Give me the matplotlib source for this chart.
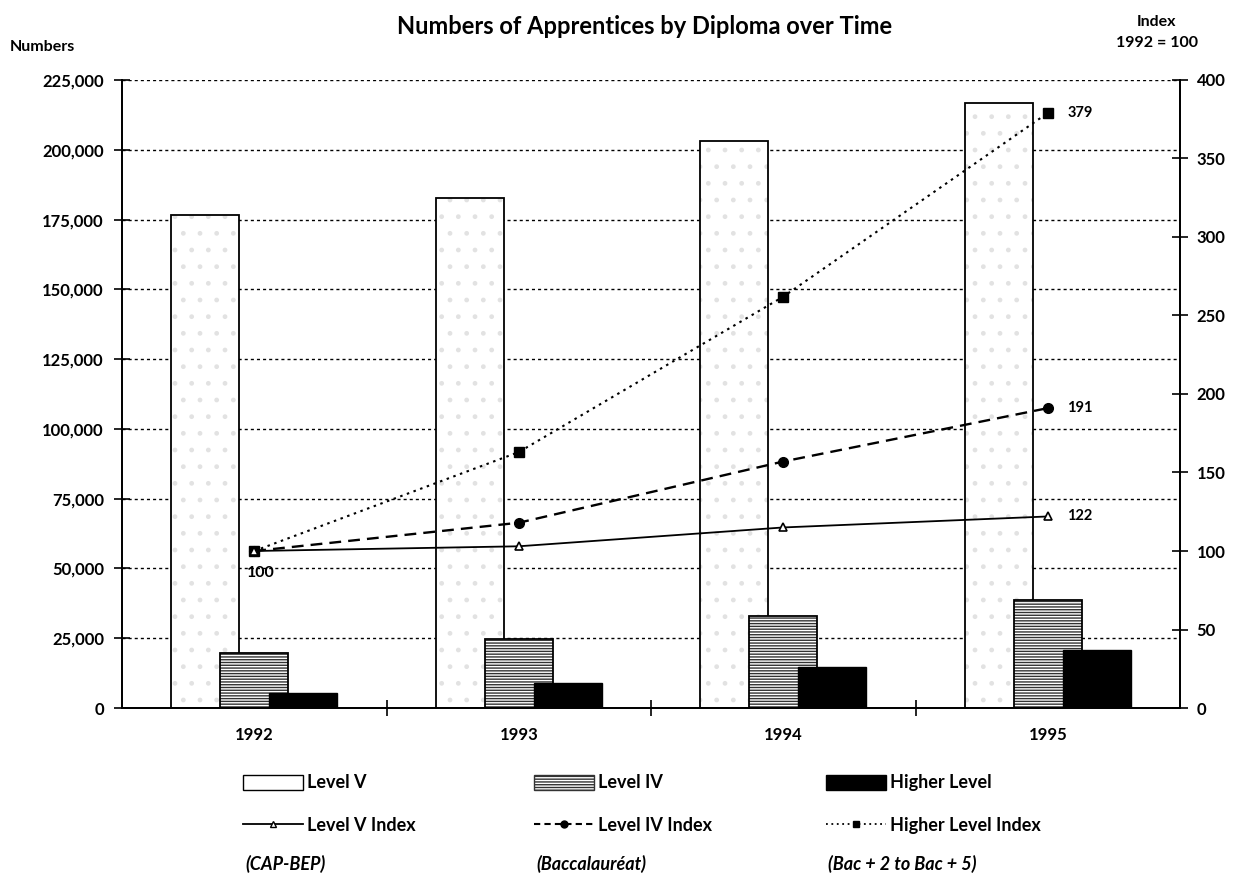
import matplotlib
matplotlib.use("Agg")
import matplotlib.pyplot as plt
from matplotlib.patches import Patch
from matplotlib.lines import Line2D
from matplotlib.ticker import FuncFormatter, FixedLocator
import numpy as np

# ---------------- data ----------------
years = ["1992", "1993", "1994", "1995"]
level_v = [176700, 182800, 203300, 216600]
level_iv = [19800, 24600, 33000, 38800]
higher = [5500, 9000, 14600, 20800]
idx_v = [100, 103, 115, 122]
idx_iv = [100, 118, 157, 191]
idx_higher = [100, 163, 262, 379]
end_labels = ["122", "191", "379"]
left_ticks = [0, 25000, 50000, 75000, 100000, 125000, 150000, 175000, 200000, 225000]
right_ticks = [0, 50, 100, 150, 200, 250, 300, 350, 400]
legend_notes = ["(CAP-BEP)", "(Baccalauréat)", "(Bac + 2 to Bac + 5)"]

FONT = ["Lato", "DejaVu Sans"]
plt.rcParams["font.family"] = FONT
plt.rcParams["hatch.linewidth"] = 1.0

fig = plt.figure(figsize=(12.4, 8.8), dpi=100)
ax = fig.add_axes([122 / 1240, 1 - 708 / 880, (1180 - 122) / 1240, (708 - 80) / 880])
ax2 = ax.twinx()

x = np.arange(len(years)) + 0.5
w = 0.257
off = 0.185

# gridlines
for t in left_ticks[1:]:
    ax.axhline(t, color="black", lw=1.0, ls=(0, (2.2, 2.2)), zorder=0.5)

# Level V bars: faint speckle layer + outline
ax.bar(x - off, level_v, w, facecolor="white", edgecolor="#e2e2e2", hatch=".",
       lw=0, zorder=2)
ax.bar(x - off, level_v, w, facecolor="none", edgecolor="black", lw=1.3, zorder=2.1)
# Level IV bars
ax.bar(x, level_iv, w, facecolor="white", edgecolor="#333333", hatch="------",
       lw=0, zorder=3)
ax.bar(x, level_iv, w, facecolor="none", edgecolor="black", lw=1.3, zorder=3.1)
# Higher level bars
ax.bar(x + off, higher, w, facecolor="black", edgecolor="black", lw=1.0, zorder=4)

ax.set_xlim(0, 4)
ax.set_ylim(0, 225000)
ax2.set_ylim(0, 400)

# index lines
ax2.plot(x, idx_higher, color="black", lw=1.5, ls=(0, (1.2, 2.2)), marker="s",
         ms=6.5, mfc="black", mec="black", zorder=6)
ax2.plot(x, idx_iv, color="black", lw=1.7, ls=(0, (5, 3)), marker="o",
         ms=7, mfc="black", mec="black", zorder=6)
ax2.plot(x, idx_v, color="black", lw=1.3, ls="-", marker="^",
         ms=6, mfc="white", mec="black", mew=1.2, zorder=6)

# value labels
for vals, lab in zip([idx_v, idx_iv, idx_higher], end_labels):
    ax2.annotate(lab, xy=(x[-1], vals[-1]), xytext=(14, 0), textcoords="offset points",
                 ha="left", va="center", fontsize=10.5, fontweight="bold")
ax2.annotate(str(idx_v[0]), xy=(x[0], idx_v[0]), xytext=(-5, -16),
             textcoords="offset points", ha="left", va="center",
             fontsize=11.5, fontweight="bold")

# axes styling
for a in (ax, ax2):
    a.spines["top"].set_visible(False)
    a.spines["left"].set_linewidth(1.3)
    a.spines["right"].set_linewidth(1.3)
    a.spines["bottom"].set_linewidth(1.3)

ax.yaxis.set_major_locator(FixedLocator(left_ticks))
ax.yaxis.set_major_formatter(FuncFormatter(lambda v, p: f"{int(v):,}"))
ax.tick_params(axis="y", direction="inout", length=12, width=1.2, pad=7,
               labelsize=12)
for lb in ax.get_yticklabels():
    lb.set_fontweight("bold")

ax2.yaxis.set_major_locator(FixedLocator(right_ticks))
ax2.tick_params(axis="y", direction="inout", length=12, width=1.2, pad=6,
                labelsize=12)
for lb in ax2.get_yticklabels():
    lb.set_fontweight("bold")

ax.set_xticks(x)
ax.set_xticklabels(years, fontsize=12, fontweight="bold")
ax.tick_params(axis="x", which="major", length=0, pad=14)
ax.set_xticks([1, 2, 3], minor=True)
ax.tick_params(axis="x", which="minor", direction="inout", length=12, width=1.2)

# titles and headers
fig.text(645 / 1240, 1 - 27 / 880, "Numbers of Apprentices by Diploma over Time",
         ha="center", va="center", fontsize=17, fontweight="bold")
fig.text(10 / 1240, 1 - 47 / 880, "Numbers", ha="left", va="center",
         fontsize=11.5, fontweight="bold")
fig.text(1157 / 1240, 1 - 22 / 880, "Index", ha="center", va="center",
         fontsize=11.5, fontweight="bold")
fig.text(1157 / 1240, 1 - 43 / 880, "1992 = 100", ha="center", va="center",
         fontsize=11.5, fontweight="bold")

# legends (3 columns)
h_v = Patch(facecolor="white", edgecolor="black", hatch="", lw=1.0)
h_iv = Patch(facecolor="white", edgecolor="#333333", hatch="------", lw=1.0)
h_hi = Patch(facecolor="black", edgecolor="black", lw=1.0)
l_v = Line2D([], [], color="black", lw=1.3, marker="^", ms=5, mfc="white", mec="black")
l_iv = Line2D([], [], color="black", lw=1.5, ls=(0, (3, 2)), marker="o", ms=5,
              mfc="black", mec="black")
l_hi = Line2D([], [], color="black", lw=1.3, ls=(0, (1, 2)), marker="s", ms=5,
              mfc="black", mec="black")

cols = [(245, [h_v, l_v], ["Level V", "Level V Index"]),
        (536, [h_iv, l_iv], ["Level IV", "Level IV Index"]),
        (828, [h_hi, l_hi], ["Higher Level", "Higher Level Index"])]
for (xp, hs, ls_), note in zip(cols, legend_notes):
    leg = fig.legend(hs, ls_, loc="upper left",
                     bbox_to_anchor=(xp / 1240 - 0.006, 1 - 769 / 880),
                     frameon=False, handlelength=3.3, handleheight=0.9,
                     handletextpad=0.25, labelspacing=1.4, borderaxespad=0,
                     borderpad=0.3, prop={"size": 13, "weight": "bold",
                                          "family": FONT})
    fig.text(xp / 1240, 1 - 864 / 880, note, ha="left", va="center",
             fontsize=13, fontweight="bold", fontstyle="italic")

fig.savefig("out.png", dpi=100)
